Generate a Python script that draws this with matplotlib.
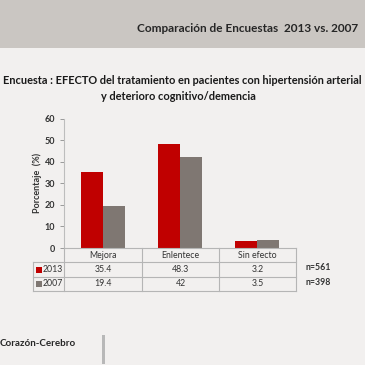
import numpy as np
import matplotlib.pyplot as plt
from matplotlib.patches import Rectangle
from matplotlib.lines import Line2D

# Datos de la encuesta
categorias = ['Mejora', 'Enlentece', 'Sin efecto']
anios = ['2013', '2007']
valores_2013 = [35.4, 48.3, 3.2]
valores_2007 = [19.4, 42, 3.5]
textos_2013 = ['35.4', '48.3', '3.2']
textos_2007 = ['19.4', '42', '3.5']
muestras = ['n=561', 'n=398']
colores = ['#c00000', '#7f7772']

W = H = 365
fig = plt.figure(figsize=(3.65, 3.65), dpi=100, facecolor='#f2f0ef')
plt.rcParams['font.family'] = ['Lato', 'DejaVu Sans']


# Coordenadas en pixeles -> fraccion de figura
def px(x, y):
    return x / W, 1 - y / H


# Banda gris superior
fig.patches.append(Rectangle((0, 1 - 48 / H), 1, 48 / H, transform=fig.transFigure,
                             facecolor='#cac6c2', edgecolor='none', zorder=0))
fig.text(*px(358, 28), 'Comparación de Encuestas  2013 vs. 2007', ha='right', va='center',
         fontsize=8.5, fontweight='bold', color='#262626')

# Titulo
fig.text(*px(182, 81), 'Encuesta : EFECTO del tratamiento en pacientes con hipertensión arterial',
         ha='center', va='center', fontsize=7.9, fontweight='bold', color='#1a1a1a')
fig.text(*px(178, 96), 'y deterioro cognitivo/demencia', ha='center', va='center',
         fontsize=7.9, fontweight='bold', color='#1a1a1a')

# Ejes
x0, x1, ytop, ybot = 64, 296, 118.5, 248
ax = fig.add_axes([x0 / W, 1 - ybot / H, (x1 - x0) / W, (ybot - ytop) / H])
ax.set_facecolor('none')
x = np.arange(len(categorias))
ancho = 0.286
ax.bar(x - ancho / 2, valores_2013, ancho, color=colores[0])
ax.bar(x + ancho / 2, valores_2007, ancho, color=colores[1])
ax.set_xlim(-0.5, 2.5)
ax.set_ylim(0, 60)
ax.set_yticks(range(0, 61, 10))
ax.set_xticks([])
ax.tick_params(axis='y', labelsize=6.5, colors='#8c8c8c', labelcolor='#333333', length=3, width=0.6)
for lab in ax.get_yticklabels():
    lab.set_fontweight('bold')
for s in ['top', 'right', 'bottom']:
    ax.spines[s].set_visible(False)
ax.spines['left'].set_color('#bdbdbd')
ax.spines['left'].set_linewidth(0.8)
ax.set_ylabel('Porcentaje  (%)', fontsize=6.5, fontweight='bold', color='#333333', labelpad=2)

# Tabla de datos
lc = '#b5b5b5'
filas = [(262, 277), (277, 291)]
cols = [64, 142, 219, 296]


def linea(xa, ya, xb, yb):
    fig.lines.append(Line2D([xa / W, xb / W], [1 - ya / H, 1 - yb / H], transform=fig.transFigure,
                            color=lc, linewidth=0.8))


linea(64, 248, 296, 248)
linea(33, 262, 296, 262)
linea(33, 277, 296, 277)
linea(33, 291, 296, 291)
linea(33, 262, 33, 291)
for c in cols:
    linea(c, 248, c, 291)

for i, cat in enumerate(categorias):
    cx = (cols[i] + cols[i + 1]) / 2
    fig.text(*px(cx, 255.5), cat, ha='center', va='center', fontsize=6.3, color='#333333')

for j, (fila, textos) in enumerate(zip(filas, [textos_2013, textos_2007])):
    cy = (fila[0] + fila[1]) / 2
    fig.patches.append(Rectangle(px(36, cy + 3), 6 / W, 6 / H, transform=fig.transFigure,
                                 facecolor=colores[j], edgecolor='none'))
    fig.text(*px(43, cy), anios[j], ha='left', va='center', fontsize=6.3, color='#333333')
    for i, t in enumerate(textos):
        cx = (cols[i] + cols[i + 1]) / 2
        fig.text(*px(cx, cy), t, ha='center', va='center', fontsize=6.3, color='#333333')
    fig.text(*px(306, cy - 1.5), muestras[j], ha='left', va='center', fontsize=6.3,
             fontweight='bold', color='#333333')

# Pie
fig.text(*px(0, 344), 'Corazón-Cerebro', ha='left', va='center', fontsize=7,
         fontweight='bold', color='#262626')
fig.patches.append(Rectangle(px(102, 364), 3 / W, 29 / H, transform=fig.transFigure,
                             facecolor='#b8b8b8', edgecolor='none'))

fig.savefig('out.png', dpi=100, facecolor=fig.get_facecolor())
